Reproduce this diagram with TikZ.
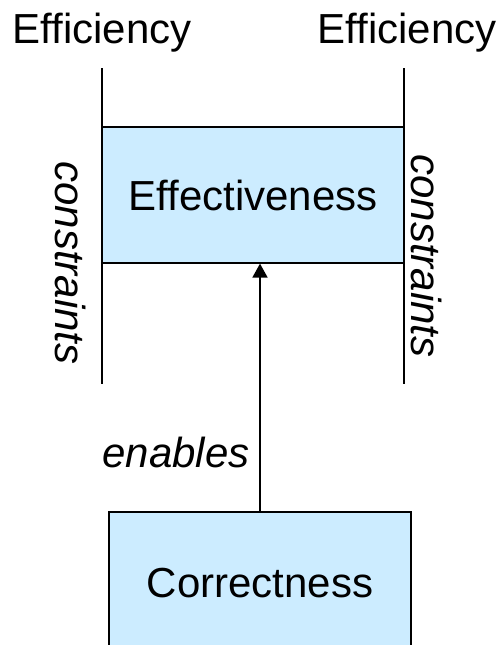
\documentclass[tikz,border=0pt]{standalone}
\usepackage{fontspec}
\setmainfont{Liberation Sans}
\usetikzlibrary{arrows.meta}
\definecolor{boxfill}{RGB}{204,236,255}
\tikzset{
  label42/.style={font=\fontsize{42}{50}\selectfont, inner sep=0pt},
  slanted42/.style={font=\fontsize{42}{50}\selectfont\itshape, inner sep=0pt},
  qualitybox/.style={draw=black, line width=1.2pt, fill=boxfill,
    minimum width=302pt, inner sep=0pt, font=\fontsize{42}{50}\selectfont},
  boundary/.style={line width=1.8pt},
  enablearrow/.style={line width=1.8pt, -{Triangle[width=15pt,length=14pt]}}
}
\begin{document}
\begin{tikzpicture}[x=1pt, y=-1pt]
  \useasboundingbox (0,0) rectangle (502,645);

  % boundary lines on both sides of the effectiveness box
  \coordinate (lt) at (102,68);
  \coordinate (lb) at (102,384);
  \coordinate (rt) at (404,68);
  \coordinate (rb) at (404,384);
  \draw[boundary] (lt) -- (lb);
  \draw[boundary] (rt) -- (rb);

  % labels above the boundary lines
  \node[label42, anchor=base] (effL) at (102,43) {Efficiency};
  \node[label42, anchor=base] (effR) at (407,43) {Efficiency};

  % the two quality boxes
  \node[qualitybox, minimum height=136pt] (eff) at (253,195) {Effectiveness};
  \node[qualitybox, minimum height=142pt] (cor) at (260,583) {Correctness};

  % side labels along the boundary lines
  \node[slanted42, rotate=-90] (conL) at (71,263) {constraints};
  \node[slanted42, rotate=-90] (conR) at (427,256) {constraints};

  % correctness enables effectiveness
  \draw[enablearrow] (cor.north) -- (cor.north |- eff.south);
  \node[slanted42] (en) at (176,452) {enables};
\end{tikzpicture}
\end{document}
